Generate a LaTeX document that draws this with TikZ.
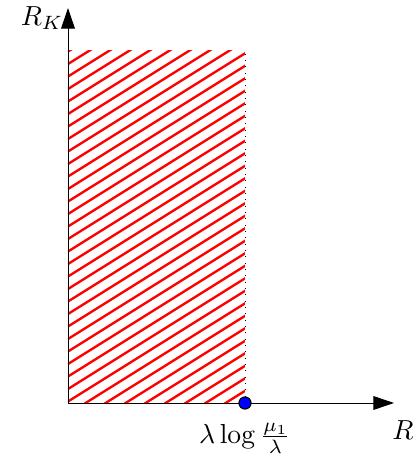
\documentclass[tikz,border=0pt]{standalone}
\usetikzlibrary{arrows.meta}

\begin{document}
\begin{tikzpicture}[x=0.01276cm, y=0.01276cm,
  axis/.style ={-{Triangle[length=7.5pt, width=5pt]}, line width=0.35pt},
  hatch/.style={red, line width=0.85pt},
  bound/.style={dotted, line width=0.3pt},
  pt/.style   ={circle, draw=black, fill=blue, inner sep=0pt, minimum size=4.4pt},
]
\useasboundingbox (0,0) rectangle (419,464);

\coordinate (O)    at (68,61);
\coordinate (ytop) at (68,456);
\coordinate (xend) at (394,61);
\coordinate (P)    at (245,61);
\coordinate (Ptop) at (245,414);

% achievable region
\begin{scope}
  \clip (O) rectangle (Ptop);
  \foreach \k in {0,...,38}
    \draw[hatch] (68,-50+\k*12.5) -- ++(300,187.5);
\end{scope}
\draw[bound] (P) -- (Ptop);

\draw[axis] (O) -- (ytop);
\draw[axis] (O) -- (xend);

\node[pt] (dot) at (P) {};

\node (rk)  at (42,446)  {$R_K$};
\node (r)   at (403,34)  {$R$};
\node (lab) at (245,26)  {$\lambda\log\frac{\mu_1}{\lambda}$};
\end{tikzpicture}
\end{document}
